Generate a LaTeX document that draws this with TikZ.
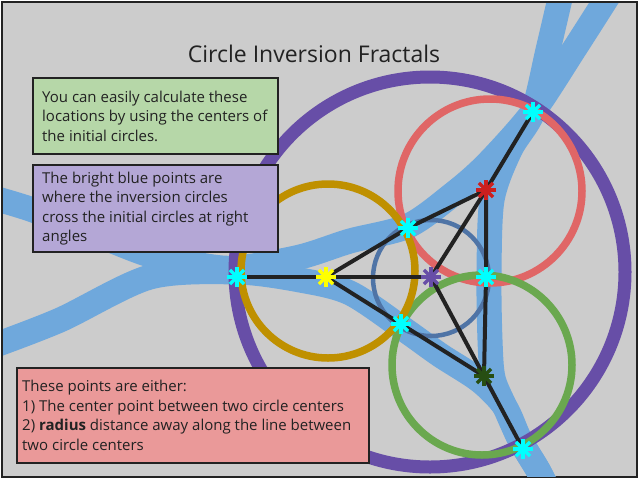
\documentclass[tikz,border=0pt]{standalone}
\usepackage{fontspec}
\setmainfont{Open Sans}
\usetikzlibrary{positioning}
\definecolor{paper}{HTML}{CCCCCC}
\definecolor{ink}{HTML}{222222}
\definecolor{bandBlue}{HTML}{6FA8DC}
\definecolor{outerPurple}{HTML}{674EA7}
\definecolor{ringRed}{HTML}{E06666}
\definecolor{ringGreen}{HTML}{6AA84F}
\definecolor{ringGold}{HTML}{BF9000}
\definecolor{ringSteel}{HTML}{4F74A6}
\definecolor{starCyan}{HTML}{00FFFF}
\definecolor{starYellow}{HTML}{FFFF00}
\definecolor{starRed}{HTML}{CC1F1F}
\definecolor{starPurple}{HTML}{674EA7}
\definecolor{starGreen}{HTML}{274E13}
\definecolor{noteGreen}{HTML}{B6D7A8}
\definecolor{notePurple}{HTML}{B4A7D6}
\definecolor{noteRed}{HTML}{EA9999}

\begin{document}
\begin{tikzpicture}[x=1pt, y=-1pt]
	\tikzstyle{band} = [line width=25pt, draw=bandBlue]
	\tikzstyle{ring} = [line width=7.5pt]
	\tikzstyle{link} = [line width=4pt, draw=ink, line cap=round]
	\tikzstyle{box} = [rectangle, draw=ink, line width=2pt, anchor=north west, 
	minimum width=245pt, minimum height=76pt]
	\tikzstyle{note} = [align=left, inner sep=0pt, text=ink, 
	font=\fontsize{15}{19.5}\selectfont]
	\tikzset{spark/.pic={\foreach \a in {0,45,90,135} 
		\draw [line width=3.5pt] (\a:10) -- (\a+180:10);}}

	\useasboundingbox (0,0) rectangle (639,480);
	\draw [fill=paper, draw=ink, line width=2pt] (2,2) rectangle (637,477);

	\coordinate (outerLeft) at (237,277);
	\coordinate (outerTop) at (533,112);
	\coordinate (outerBottom) at (523,449);
	\coordinate (touchUpper) at (408,228);
	\coordinate (touchLower) at (401,324);
	\coordinate (touchRight) at (486,277);
	\coordinate (yellowCenter) at (326,277);
	\coordinate (redCenter) at (486,190);
	\coordinate (greenCenter) at (484,376);
	\coordinate (innerCenter) at (431,277);

	\begin{scope}
	\clip (3,3) rectangle (636,476);
	\draw [band] plot[smooth] coordinates {(-10,197) (33,210) (100,236) 
		(150,255) (200,265) (237,268) (300,257) (350,241) (408,226) (453,194) 
		(487,164) (533,112) (575,48) (612,-10)};
	\draw [band] plot[smooth] coordinates {(-10,347) (60,320) (150,277) 
		(237,272) (300,280) (350,293) (405,330) (440,355) (480,381) (505,407) 
		(520,440) (538,470) (548,490)};
	\draw [band] plot[smooth] coordinates {(562,-10) (548,50) (533,112) 
		(510,150) (492,200) (489,276) (490,340) (493,378) (505,407) (520,440) 
		(538,470) (548,490)};
	\end{scope}

	\draw [draw=outerPurple, line width=13pt] (430,272) circle [radius=195pt];
	\draw [draw=ringSteel, line width=4.5pt] (431,278) circle [radius=58pt];
	\draw [ring, draw=ringRed] (490,191) circle [radius=92pt];
	\draw [ring, draw=ringGreen] (482,365) circle [radius=90pt];
	\draw [ring, draw=ringGold] (328,271) circle [radius=87pt];

	\draw [link] (outerLeft) -- (yellowCenter) -- (innerCenter);
	\draw [link] (yellowCenter) -- (touchUpper) -- (redCenter);
	\draw [link] (yellowCenter) -- (touchLower) -- (greenCenter);
	\draw [link] (redCenter) -- (innerCenter) -- (greenCenter);
	\draw [link] (redCenter) -- (touchRight) -- (greenCenter);
	\draw [link] (redCenter) -- (outerTop);
	\draw [link] (greenCenter) -- (outerBottom);

	\pic [starCyan] at (outerLeft) {spark};
	\pic [starCyan] at (outerTop) {spark};
	\pic [starCyan] at (outerBottom) {spark};
	\pic [starCyan] at (touchUpper) {spark};
	\pic [starCyan] at (touchLower) {spark};
	\pic [starCyan] at (touchRight) {spark};
	\pic [starYellow] at (yellowCenter) {spark};
	\pic [starRed] at (redCenter) {spark};
	\pic [starPurple] at (innerCenter) {spark};
	\pic [starGreen] at (greenCenter) {spark};

	\node (title) at (314,54) [text=ink, font=\fontsize{23}{28}\selectfont] 
	{Circle Inversion Fractals};

	\node (greenBox) [box, fill=noteGreen] at (32,77) {};
	\node (purpleBox) [box, fill=notePurple, minimum height=87pt] at (32,164) {};
	\node (redBox) [box, fill=noteRed, minimum width=352pt, minimum height=95pt] 
	at (16,367) {};
	\node (greenNote) [note, right=10pt of greenBox.west] 
	{You can easily calculate these\\locations by using the centers of\\the initial circles.};
	\node (purpleNote) [note, right=10pt of purpleBox.west] 
	{The bright blue points are\\where the inversion circles\\cross the initial circles at right\\angles};
	\node (redNote) [note, right=6pt of redBox.west] 
	{These points are either:\\1) The center point between two circle centers\\2) \textbf{radius} distance away along the line between\\two circle centers};
\end{tikzpicture}
\end{document}
